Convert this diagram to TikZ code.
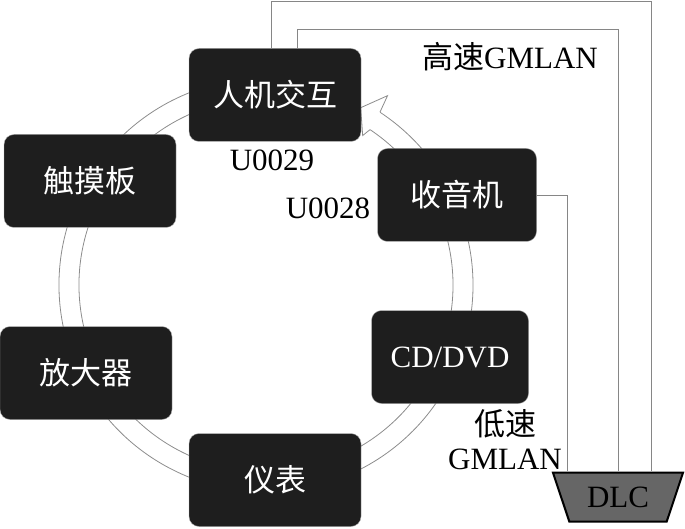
\documentclass[tikz,border=0pt]{standalone}
\usepackage{fontspec}
\setmainfont{Liberation Serif}
\newfontfamily\cjk{Noto Sans CJK SC}
\usetikzlibrary{shapes.geometric}
\definecolor{boxfill}{HTML}{1E1E1E}
\definecolor{dlcfill}{HTML}{666666}

\begin{document}
\begin{tikzpicture}[x=1pt,y=1pt,
  ecu/.style={draw=gray!60,fill=boxfill,rounded corners=10pt,text=white,
    minimum width=172pt,minimum height=93pt,inner sep=0pt,font=\fontsize{31}{34}\selectfont},
  ring/.style={draw=gray!90,line width=0.8pt},
  wire/.style={gray!95,line width=0.9pt},
  lbl/.style={font=\fontsize{31}{34}\selectfont,inner sep=0pt}]
  \useasboundingbox (0,0) rectangle (685,528);

  % ring of the low speed bus, arrow into HMI
  \begin{scope}[shift={(266,243)}]
    \draw[ring] (64:207) arc[start angle=64,end angle=416.6,radius=207]; %outer line
    \draw[ring] (64:187) arc[start angle=64,end angle=416.2,radius=187]; %inner line
    \draw[ring,fill=white] (56.6:207) -- (57.3:225) -- (61.9:201) -- (57.1:178) -- (56.2:187); %arrow head
  \end{scope}

  % modules
  \node[ecu] (hmi)   at (275,433) {\cjk 人机交互};
  \node[ecu,minimum width=159pt] (radio) at (457,333) {\cjk 收音机};
  \node[ecu,minimum width=157pt] (cd)    at (450,171) {CD/DVD};
  \node[ecu] (touch) at (90,347)  {\cjk 触摸板};
  \node[ecu] (amp)   at (86,155)  {\cjk 放大器};
  \node[ecu] (ipc)   at (275,48)  {\cjk 仪表};

  % diagnostic connector
  \node[trapezium,trapezium stretches=true,shape border rotate=180,trapezium angle=63.4,
    draw=black,line width=2pt,fill=dlcfill,minimum width=131pt,minimum height=49pt,
    inner sep=0pt,font=\fontsize{31}{34}\selectfont] (dlc) at (618,31) {DLC};

  % GMLAN wires
  \draw[wire] ([xshift=-4pt]hmi.north) |- (651,527) -- (dlc.north -| 651,0);
  \draw[wire] ([xshift=22pt]hmi.north) |- (618,499) -- (dlc.north -| 618,0);
  \draw[wire] (radio.east) -| (dlc.north -| 567,0);

  % labels
  \node[lbl] (fast) at (510,471) {{\cjk 高速}GMLAN};
  \node[lbl] (u29)  at (272,368) {U0029};
  \node[lbl] (u28)  at (328,320) {U0028};
  \node[lbl,align=center] (slow) at (505,88) {{\cjk 低速}\\GMLAN};
\end{tikzpicture}
\end{document}
